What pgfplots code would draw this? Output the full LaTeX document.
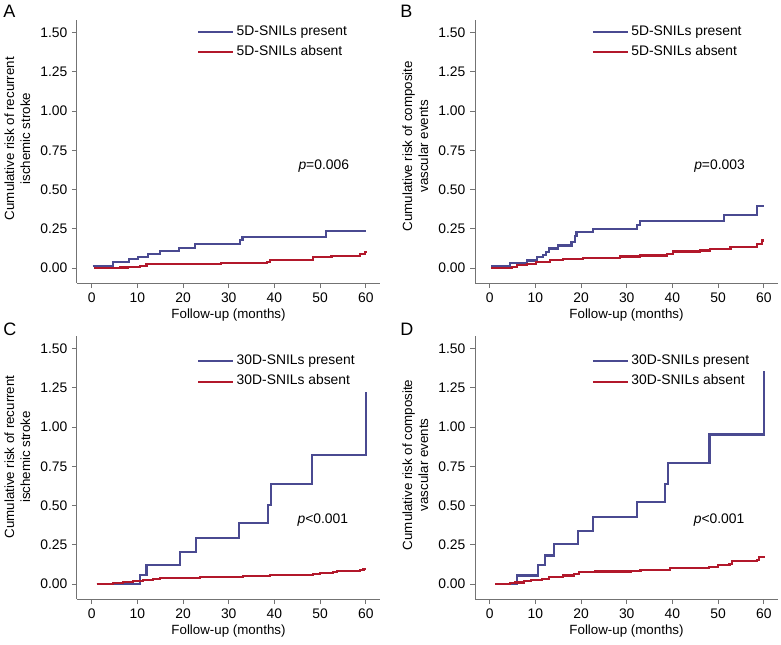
\documentclass[border=0pt]{standalone}
\usepackage{fontspec}
\setmainfont{Liberation Sans}
\usepackage{pgfplots}
\pgfplotsset{compat=1.18}

\definecolor{kmblue}{RGB}{74,74,145}
\definecolor{kmred}{RGB}{178,24,43}
\definecolor{axgray}{RGB}{115,115,115}

\newcommand{\fs}{\fontsize{10.4}{12}\selectfont}

\pgfplotsset{
  kmaxis/.style={
    width=227.25pt, height=197.25pt, scale only axis,
    xmin=-3.2, xmax=63.1, ymin=-0.095, ymax=1.58,
    axis x line*=bottom, axis y line*=left,
    axis line style={axgray, line width=0.75pt, -},
    tick align=outside, major tick length=3.75pt,
    tick style={axgray, line width=0.75pt},
    xtick={0,10,20,30,40,50,60},
    ytick={0,0.25,0.5,0.75,1,1.25,1.5},
    y tick label style={/pgf/number format/.cd, fixed, fixed zerofill, precision=2, /tikz/.cd},
    /pgf/number format/assume math mode=true,
    tick label style={font=\fs},
    label style={font=\fontsize{10.6}{12.75}\selectfont},
    xlabel={Follow-up (months)},
    every axis x label/.style={at={(axis description cs:0.5,-0.122)}, anchor=center},
    legend cell align=left,
    legend image code/.code={\draw[##1] (0pt,0pt) -- (26pt,0pt);},
    legend style={draw=none, fill=none, anchor=north west, inner sep=0pt,
      font=\fs, row sep=1.2pt,
      nodes={inner sep=2pt, text height=7.5pt, text depth=2.5pt}},
  },
  kmy/.style={every axis y label/.style={at={(axis description cs:-0.197,#1)},
      rotate=90, anchor=center, align=center}},
  pres/.style={const plot mark left, kmblue, line width=1.6pt},
  abs/.style={const plot mark left, kmred, line width=1.6pt},
}

\begin{document}
\begin{tikzpicture}
\useasboundingbox (0,0) rectangle (585.75pt,-483.75pt);

% A
\node[anchor=north west, inner sep=0pt, font=\fontsize{13.5}{14}\selectfont] at (2.25pt,-3.75pt) {A};
\begin{axis}[kmaxis, kmy=0.549, at={(57.75pt,-212.25pt)}, anchor=south west,
  ylabel={Cumulative risk of recurrent\\ischemic stroke},
  legend style={at={(axis description cs:0.396,0.992)}}]
\addplot[pres] coordinates {(0.2,0.013)(4.6,0.036)(8.2,0.057)(10.2,0.072)(12.4,0.089)(14.9,0.108)(19.2,0.129)(22.6,0.151)(32.4,0.178)(33.0,0.200)(51.3,0.237)(60,0.237)};
\addlegendentry{5D-SNILs present}
\addplot[abs] coordinates {(0.5,0)(6.2,0.004)(8,0.009)(10.6,0.015)(12,0.025)(28.4,0.032)(38.3,0.04)(39,0.051)(48.4,0.068)(52.5,0.077)(58.7,0.089)(59.8,0.105)(60,0.11)};
\addlegendentry{5D-SNILs absent}
\node[font=\fs] at (axis cs:50.8,0.65) {\textit{p}=0.006};
\end{axis}

% B
\node[anchor=north west, inner sep=0pt, font=\fontsize{13.5}{14}\selectfont] at (300pt,-3.75pt) {B};
\begin{axis}[kmaxis, kmy=0.52, at={(356.25pt,-212.25pt)}, anchor=south west,
  ylabel={Cumulative risk of composite\\vascular events},
  legend style={at={(axis description cs:0.385,0.992)}}]
\addplot[pres] coordinates {(0.4,0.013)(4.4,0.03)(8.1,0.048)(10.4,0.068)(11.7,0.085)(12.4,0.105)(13.0,0.125)(15,0.144)(17.9,0.166)(18.6,0.205)(19,0.23)(22.7,0.25)(32.2,0.272)(32.9,0.302)(51.2,0.34)(58.5,0.394)(60,0.394)};
\addlegendentry{5D-SNILs present}
\addplot[abs] coordinates {(0.4,0)(4.8,0.006)(5.9,0.017)(8.1,0.028)(10.2,0.038)(13.2,0.049)(16,0.06)(20.4,0.066)(28.5,0.074)(32.9,0.08)(38.8,0.091)(40.2,0.106)(46.1,0.112)(48.3,0.119)(52.7,0.134)(58.5,0.151)(59.6,0.176)(60,0.176)};
\addlegendentry{5D-SNILs absent}
\node[font=\fs] at (axis cs:50.3,0.65) {\textit{p}=0.003};
\end{axis}

% C
\node[anchor=north west, inner sep=0pt, font=\fontsize{13.5}{14}\selectfont] at (2.25pt,-242.25pt) {C};
\begin{axis}[kmaxis, kmy=0.54, at={(57.75pt,-449.25pt)}, anchor=south west,
  ylabel={Cumulative risk of recurrent\\ischemic stroke},
  legend style={at={(axis description cs:0.396,0.94)}}]
\addplot[pres] coordinates {(1.1,0)(10.6,0.06)(12.0,0.123)(19.3,0.205)(22.8,0.292)(32.3,0.388)(38.5,0.505)(39.3,0.638)(48.2,0.822)(60,1.222)};
\addlegendentry{30D-SNILs present}
\addplot[abs] coordinates {(1.1,0)(4.7,0.005)(6.9,0.012)(9.1,0.02)(11.3,0.027)(13.5,0.033)(15,0.04)(23.7,0.045)(33.2,0.05)(39,0.057)(48.5,0.062)(50,0.068)(52.9,0.077)(53.6,0.083)(58.8,0.089)(59.5,0.095)(60,0.095)};
\addlegendentry{30D-SNILs absent}
\node[font=\fs] at (axis cs:50.6,0.41) {\textit{p}<0.001};
\end{axis}

% D
\node[anchor=north west, inner sep=0pt, font=\fontsize{13.5}{14}\selectfont] at (300pt,-242.25pt) {D};
\begin{axis}[kmaxis, kmy=0.51, at={(356.25pt,-449.25pt)}, anchor=south west,
  ylabel={Cumulative risk of composite\\vascular events},
  legend style={at={(axis description cs:0.385,0.94)}}]
\addplot[pres] coordinates {(1.2,0)(5.9,0.055)(10.6,0.119)(12.1,0.182)(14.1,0.256)(19.4,0.339)(22.7,0.426)(32.2,0.521)(38.4,0.638)(39.1,0.769)(48.1,0.953)(60,1.356)};
\addlegendentry{30D-SNILs present}
\addplot[abs] coordinates {(1.2,0)(4.5,0.005)(5.5,0.01)(7.5,0.02)(9,0.028)(11.5,0.035)(13,0.045)(16,0.055)(18.5,0.065)(19.5,0.075)(23,0.08)(31,0.085)(33,0.09)(39.5,0.1)(40.5,0.105)(48,0.11)(50,0.12)(52.5,0.13)(53,0.145)(58.5,0.155)(59,0.175)(60,0.18)};
\addlegendentry{30D-SNILs absent}
\node[font=\fs] at (axis cs:50.2,0.41) {\textit{p}<0.001};
\end{axis}
\end{tikzpicture}
\end{document}
